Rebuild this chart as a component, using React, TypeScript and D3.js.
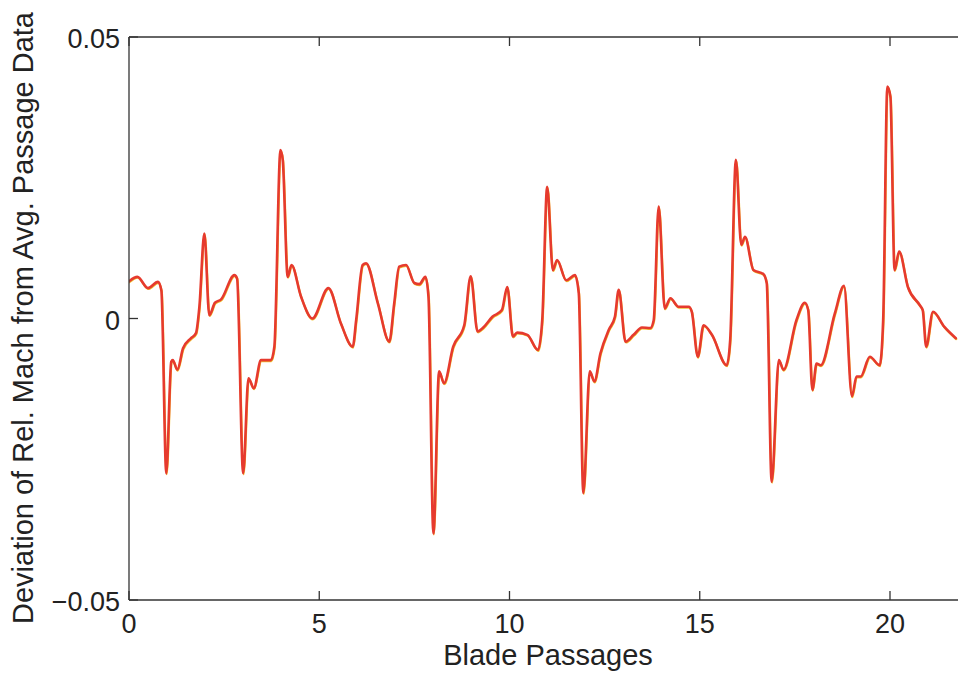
import React from "react";
import * as d3 from "d3";

const passages: number[] = [
  0.0, 0.22, 0.5, 0.76, 0.85, 0.98, 1.11, 1.15, 1.27, 1.42, 1.63, 1.76, 1.85, 1.98, 2.11, 2.26, 2.42, 2.77, 2.84,
  3.0, 3.14, 3.28, 3.47, 3.73, 3.82, 3.98, 4.04, 4.17, 4.27, 4.52, 4.82, 5.24, 5.57, 5.88, 5.97, 6.14, 6.23, 6.54,
  6.84, 6.97, 7.1, 7.28, 7.5, 7.63, 7.79, 7.87, 8.0, 8.15, 8.28, 8.52, 8.81, 8.98, 9.16, 9.31, 9.55, 9.8, 9.94,
  10.09, 10.2, 10.47, 10.75, 10.86, 10.99, 11.14, 11.25, 11.49, 11.72, 11.82, 11.94, 12.11, 12.23, 12.39, 12.61,
  12.77, 12.87, 13.05, 13.26, 13.48, 13.7, 13.79, 13.92, 14.08, 14.23, 14.44, 14.71, 14.79, 14.95, 15.1, 15.32,
  15.71, 15.8, 15.95, 16.09, 16.19, 16.41, 16.67, 16.76, 16.89, 17.08, 17.2, 17.54, 17.76, 17.85, 17.96, 18.07,
  18.18, 18.55, 18.79, 19.0, 19.12, 19.23, 19.47, 19.73, 19.82, 19.93, 20.01, 20.12, 20.24, 20.47, 20.78, 20.86,
  20.95, 21.13, 21.43, 21.73,
];

const deviation: number[] = [
  0.0066, 0.0074, 0.0054, 0.0065, 0.005, -0.0275, -0.0077, -0.0074, -0.0091, -0.0053, -0.0035, -0.0026, 0.0021,
  0.0151, 0.0006, 0.0028, 0.0034, 0.0077, 0.0071, -0.0275, -0.0106, -0.0124, -0.0074, -0.0074, -0.005, 0.0299,
  0.0282, 0.0074, 0.0095, 0.0039, 0.0, 0.0054, -0.0009, -0.005, -0.0003, 0.0095, 0.0098, 0.0027, -0.0041, 0.0027,
  0.0092, 0.0095, 0.0063, 0.0061, 0.0074, 0.0039, -0.0382, -0.0094, -0.0115, -0.005, -0.0012, 0.0075, -0.0023,
  -0.0016, 0.0003, 0.0015, 0.0056, -0.0032, -0.0025, -0.0029, -0.0056, -0.0003, 0.0234, 0.0086, 0.0104, 0.0068,
  0.0077, 0.0045, -0.031, -0.0094, -0.0112, -0.0062, -0.002, 0.0003, 0.0051, -0.0041, -0.0029, -0.0016, -0.0017,
  -0.0003, 0.0199, 0.0018, 0.0036, 0.0021, 0.0021, 0.0012, -0.0068, -0.0012, -0.0029, -0.0083, -0.0038, 0.0282,
  0.0131, 0.0145, 0.0086, 0.0079, 0.0063, -0.029, -0.0074, -0.0091, -0.0003, 0.0028, 0.0015, -0.0127, -0.008,
  -0.0083, 0.0009, 0.0058, -0.0138, -0.0103, -0.0103, -0.0068, -0.0083, -0.0003, 0.0412, 0.0394, 0.0086, 0.0119,
  0.0056, 0.0024, 0.0015, -0.005, 0.0012, -0.0015, -0.0035,
];

const xTicks: number[] = [0, 5, 10, 15, 20];
const yTicks: number[] = [-0.05, 0, 0.05];
const yTickLabels: string[] = ["\u22120.05", "0", "0.05"];
const xLabel = "Blade Passages";
const yLabel = "Deviation of Rel. Mach from Avg. Passage Data";

const W = 958;
const H = 673;
const font = "'Liberation Sans', Arial, Helvetica, sans-serif";

export default function App() {
  const x = d3.scaleLinear().domain([0, 20]).range([129, 890]);
  const y = d3.scaleLinear().domain([-0.05, 0.05]).range([600, 37]);
  const left = x(0);
  const right = x(22.2);
  const top = y(0.05);
  const bottom = y(-0.05);
  const pts: [number, number][] = passages.map((p, i) => [p, deviation[i]]);
  const line = d3
    .line<[number, number]>()
    .x((d) => x(d[0]))
    .y((d) => y(d[1]))
    .curve(d3.curveMonotoneX);
  const path = line(pts) || "";
  const axisColor = "#333";
  const tick = 9;
  return (
    <svg
      width={W}
      height={H}
      style={{ position: "absolute", left: 0, top: 0, background: "#fff" }}
      fontFamily={font}
    >
      <rect x={0} y={0} width={W} height={H} fill="#fff" />
      <clipPath id="plotclip">
        <rect x={left} y={top} width={right - left} height={bottom - top} />
      </clipPath>
      <g clipPath="url(#plotclip)" fill="none" strokeLinejoin="round" strokeLinecap="round">
        <path d={path} stroke="#f0c030" strokeWidth={2.2} transform="translate(0.4,0.9)" />
        <path d={path} stroke="#e63a2e" strokeWidth={2.6} />
      </g>
      <line x1={left} x2={right} y1={top} y2={top} stroke={axisColor} strokeWidth={1.3} />
      <line x1={left} x2={right} y1={bottom} y2={bottom} stroke={axisColor} strokeWidth={1.3} />
      <line x1={left} x2={left} y1={top} y2={bottom} stroke={axisColor} strokeWidth={1.3} />
      {xTicks.map((t) => (
        <g key={"x" + t}>
          <line x1={x(t)} x2={x(t)} y1={bottom} y2={bottom - tick} stroke={axisColor} strokeWidth={1.3} />
          <line x1={x(t)} x2={x(t)} y1={top} y2={top + tick} stroke={axisColor} strokeWidth={1.3} />
          <text x={x(t)} y={bottom + 33} textAnchor="middle" fontSize={27} fill="#222">
            {String(t)}
          </text>
        </g>
      ))}
      {yTicks.map((t, i) => (
        <g key={"y" + t}>
          <line x1={left} x2={left + tick} y1={y(t)} y2={y(t)} stroke={axisColor} strokeWidth={1.3} />
          <text x={left - 9} y={y(t) + 11} textAnchor="end" fontSize={27} fill="#222">
            {yTickLabels[i]}
          </text>
        </g>
      ))}
      <text x={548} y={665} textAnchor="middle" fontSize={29} fill="#222">
        {xLabel}
      </text>
      <text
        transform={`translate(33, 318) rotate(-90)`}
        textAnchor="middle"
        fontSize={29}
        fill="#222"
      >
        {yLabel}
      </text>
    </svg>
  );
}
